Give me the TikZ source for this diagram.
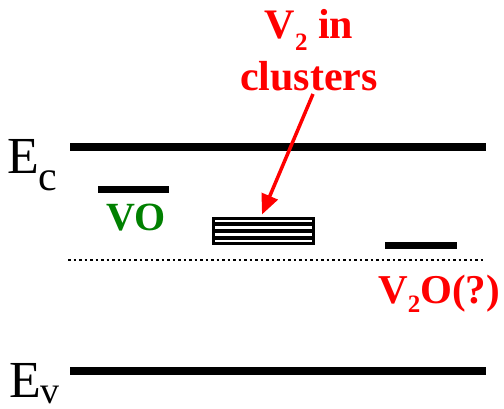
\documentclass[tikz,border=0pt]{standalone}
\usepackage{fontspec}
\setmainfont{Liberation Serif}
\usetikzlibrary{arrows.meta}

\begin{document}
\begin{tikzpicture}[x=1pt,y=-1pt,
  banda/.style={line width=8pt},
  livello/.style={line width=7pt},
  etich/.style={font=\fontsize{42}{52}\selectfont\bfseries, inner sep=0pt},
  energia/.style={font=\fontsize{52}{52}\selectfont, inner sep=0pt}]

% Colori
\definecolor{colRosso}{HTML}{FF0000}
\definecolor{colVerde}{HTML}{008000}

% Riquadro
\useasboundingbox (0,0) rectangle (504,408);

% Bande
\draw[banda] (70,147) -- (486,147);
\draw[banda] (70,371) -- (486,371);
\node[energia, anchor=base west] (Ec) at (7,173) {E\raisebox{-17pt}{\fontsize{42}{42}\selectfont c}};
\node[energia, anchor=base west] (Ev) at (9,397) {E\raisebox{-6pt}{\fontsize{38}{38}\selectfont v}};

% Meta gap (tratteggiato)
\draw[line width=2.5pt, dash pattern=on 2.5pt off 3pt] (68,260) -- (483,260);

% VO
\draw[livello] (98,189.5) -- (169,189.5);
\node[etich, text=colVerde, anchor=base, font=\fontsize{40}{40}\selectfont\bfseries] (VO) at (136,230) {VO};

% V2O
\draw[livello] (385,245.5) -- (457,245.5);
\node[etich, text=colRosso, anchor=base west, font=\fontsize{41}{41}\selectfont\bfseries] (VVO) at (378,303)
  {V\raisebox{-9pt}{\fontsize{25}{25}\selectfont 2}O(?)};

% Cluster di V2
\node[draw, line width=3pt, minimum width=100pt, minimum height=25pt, inner sep=0pt, outer sep=0pt] (clu) at (263.5,231) {};
\foreach \k in {-1,0,1}
  \draw[line width=3.5pt] ([yshift=-\k*7pt]clu.west) -- ([yshift=-\k*7pt]clu.east);

% Etichetta e freccia
\node[etich, text=colRosso, anchor=base, align=center] (lab) at (309,90)
  {V\raisebox{-12pt}{\fontsize{25}{25}\selectfont 2} in\\clusters};
\coordinate (pt) at (313,94);
\draw[colRosso, line width=3.5pt, -{Triangle[length=20pt,width=17pt]}] (pt) -- ([xshift=-1.5pt,yshift=4pt]clu.north);

\end{tikzpicture}
\end{document}
